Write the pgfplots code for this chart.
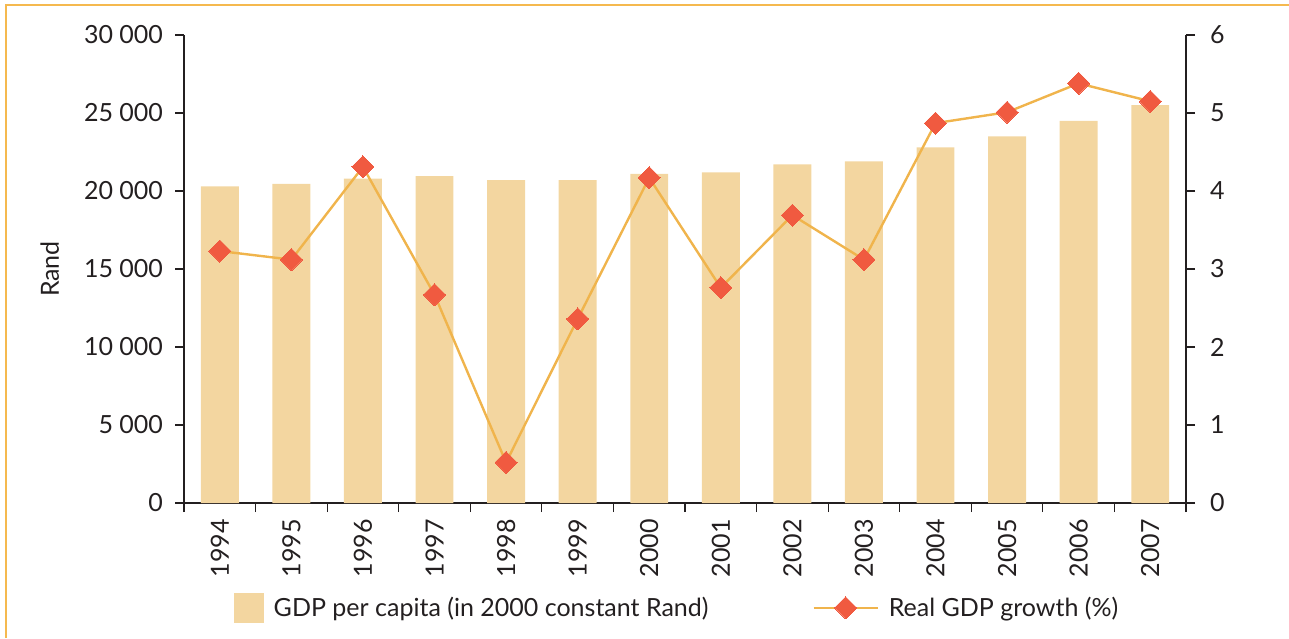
\documentclass[border=0pt]{standalone}
\usepackage{pgfplots}
\pgfplotsset{compat=1.18}
\usepackage{pgfplotstable}
\usepackage{fontspec}
\setmainfont{Lato}

\definecolor{barcol}{HTML}{F3D6A0}
\definecolor{linecol}{HTML}{F0B44C}
\definecolor{markcol}{HTML}{F05A40}
\definecolor{framecol}{HTML}{F5B94F}
\definecolor{txt}{HTML}{231F20}

% year index, GDP per capita (2000 constant Rand), real GDP growth (%)
\pgfplotstableread{
x  year gdp   growth
0  1994 20300 3.23
1  1995 20450 3.12
2  1996 20800 4.31
3  1997 20950 2.67
4  1998 20700 0.52
5  1999 20700 2.36
6  2000 21100 4.17
7  2001 21200 2.76
8  2002 21700 3.69
9  2003 21900 3.12
10 2004 22800 4.87
11 2005 23500 5.01
12 2006 24500 5.38
13 2007 25500 5.15
}\data

\pgfplotsset{
  common/.style={
    width=501pt, height=234pt,
    scale only axis,
    at={(92pt,67.5pt)}, anchor=south west,
    xmin=-0.5, xmax=13.5,
    enlarge x limits=false,
    tick align=outside,
    major tick length=4.5pt,
    minor tick length=4.5pt,
    axis line style={txt, line width=0.6pt},
    tick style={txt, line width=0.6pt},
    tick label style={font=\fontsize{12.5}{14}\selectfont, text=txt},
    /pgf/number format/assume math mode=true,
  },
  linelegend/.style={
    legend image code/.code={\draw[mark repeat=2, mark phase=2, ##1]
      plot coordinates {(0pt,0pt) (16pt,0pt) (32pt,0pt)};}
  },
  growthstyle/.style={linecol, line width=1.2pt, mark=square*, mark size=3.9pt,
    mark options={rotate=45, fill=markcol, draw=markcol, line width=0pt}},
}

\begin{document}
\begin{tikzpicture}[font=\fontsize{12.5}{14}\selectfont]
  \useasboundingbox (0,0) rectangle (644.5pt,319pt);
  % frame edges
  \draw[framecol, line width=1pt] (3pt,0pt) -- (3pt,316.5pt) -- (644.5pt,316.5pt);

  \begin{axis}[
      common,
      ymin=0, ymax=30000,
      ytick={0,5000,...,30000},
      scaled y ticks=false,
      /pgf/number format/fixed,
      /pgf/number format/1000 sep={\ },
      y tick label style={xshift=-2.5pt},
      axis y line*=left,
      axis x line*=bottom,
      xtick={0,...,13},
      xticklabels={1994,1995,1996,1997,1998,1999,2000,2001,2002,2003,2004,2005,2006,2007},
      major x tick style={draw=none},
      minor x tick style={draw=txt, line width=0.6pt},
      minor xtick={-0.5,0.5,...,13.5},
      x tick label style={rotate=90, anchor=east},
      ylabel={Rand},
      ylabel style={at={(axis description cs:-0.134,0.5)}, anchor=center, text=txt},
      legend columns=2,
      legend style={at={(0.493,-0.224)}, anchor=center, draw=none, fill=none,
        font=\fontsize{12.5}{14}\selectfont, text=txt,
        /tikz/every odd column/.append style={column sep=3pt},
        /tikz/every even column/.append style={column sep=50pt}},
    ]
    \addplot[ybar, bar width=0.53, fill=barcol, draw=none,
      legend image code/.code={\fill[barcol] (0pt,-7.5pt) rectangle (15pt,7.5pt);}]
      table[x=x, y=gdp] {\data};
    \addlegendentry{GDP per capita (in 2000 constant Rand)}
    \addlegendimage{growthstyle, linelegend}
    \addlegendentry{Real GDP growth (\%)}
  \end{axis}

  \begin{axis}[
      common,
      ymin=0, ymax=6,
      ytick={0,1,...,6},
      axis y line*=right,
      axis x line=none,
      y tick label style={xshift=4pt},
    ]
    \addplot[growthstyle] table[x=x, y=growth] {\data};
    \node[text=txt] at (axis description cs:1.056,0.5) {\%};
  \end{axis}
\end{tikzpicture}
\end{document}
